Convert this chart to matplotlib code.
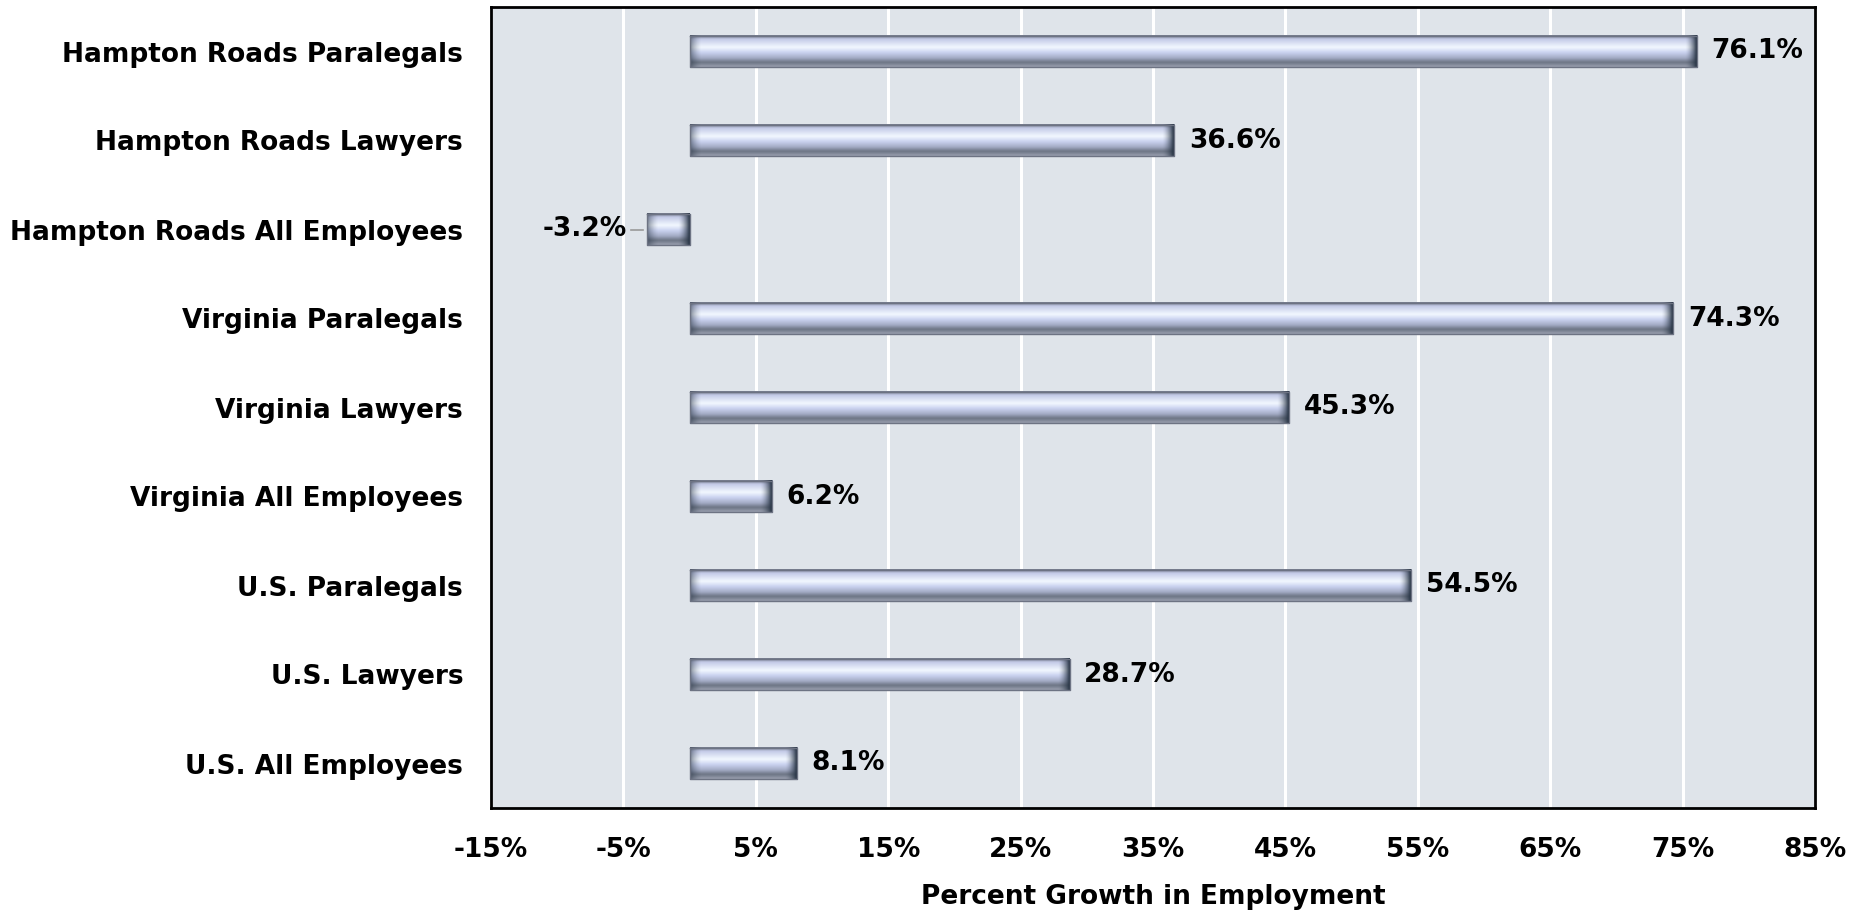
import matplotlib.pyplot as plt
import numpy as np
from matplotlib.colors import LinearSegmentedColormap

categories = ['Hampton Roads Paralegals', 'Hampton Roads Lawyers', 'Hampton Roads All Employees',
              'Virginia Paralegals', 'Virginia Lawyers', 'Virginia All Employees',
              'U.S. Paralegals', 'U.S. Lawyers', 'U.S. All Employees']
values = [76.1, 36.6, -3.2, 74.3, 45.3, 6.2, 54.5, 28.7, 8.1]
xticks = list(range(-15, 86, 10))

plt.rcParams['font.family'] = ['DejaVu Sans']
plt.rcParams['font.weight'] = 'bold'
FS = 19

fig = plt.figure(figsize=(18.72, 9.14), dpi=100)
ax = fig.add_axes([491/1872, 1 - 808/914, (1815-491)/1872, (808-7)/914])
ax.set_facecolor('#dfe4ea')

# vertical shading for the "glass" bars (top -> bottom)
bar_cmap = LinearSegmentedColormap.from_list('bar', [
    (0.0, '#6f7585'), (0.12, '#c4cbe8'), (0.38, '#f2f8ff'), (0.55, '#c9d1ef'),
    (0.72, '#a3abc4'), (0.86, '#6c7484'), (1.0, '#9aa0b0')])
grad = np.linspace(0, 1, 64).reshape(-1, 1)

# horizontal darkening for the bevelled ends
ramp = np.linspace(1, 0, 32) ** 1.6
cap_img = np.zeros((1, 32, 4))
cap_img[..., :3] = np.array([0x25, 0x32, 0x42]) / 255
cap_img[0, :, 3] = ramp

h = 0.35
ys = np.arange(len(categories))
for y, v in zip(ys, values):
    x0, x1 = min(0, v), max(0, v)
    ax.imshow(grad, cmap=bar_cmap, aspect='auto', extent=(x0, x1, y + h/2, y - h/2),
              zorder=3, interpolation='bicubic')
    cap = min(0.9, (x1 - x0) * 0.3)
    # right end (dark), left end (lighter)
    ax.imshow(cap_img[:, ::-1], aspect='auto', extent=(x1 - cap, x1, y + h/2, y - h/2),
              zorder=4, interpolation='bilinear')
    left = cap_img.copy()
    left[..., 3] *= 0.55
    ax.imshow(left, aspect='auto', extent=(x0, x0 + cap, y + h/2, y - h/2),
              zorder=4, interpolation='bilinear')
    ax.plot([x0, x1, x1, x0, x0], [y - h/2, y - h/2, y + h/2, y + h/2, y - h/2],
            color='#6d7383', lw=1, zorder=5)
    if v >= 0:
        ax.text(v + 1.1, y, f'{v:.1f}%', va='center', ha='left', fontsize=FS, fontweight='bold', zorder=6)
    else:
        ax.plot([v - 1.2, v - 0.3], [y, y], color='#999999', lw=1.2, zorder=5)
        ax.text(v - 1.5, y, f'{v:.1f}%', va='center', ha='right', fontsize=FS, fontweight='bold', zorder=6)

ax.set_xlim(-15, 85)
ax.set_ylim(len(categories) - 0.5, -0.5)
ax.set_xticks(xticks)
ax.set_xticklabels([f'{t}%' for t in xticks], fontsize=FS, fontweight='bold')
ax.set_yticks(ys)
ax.set_yticklabels(categories, fontsize=FS, fontweight='bold')
ax.tick_params(length=0)
ax.tick_params(axis='y', pad=20)
ax.tick_params(axis='x', pad=21)
ax.xaxis.grid(True, color='white', lw=2.2, zorder=1)
ax.set_axisbelow(True)
for s in ax.spines.values():
    s.set_linewidth(2)
    s.set_color('black')
ax.set_xlabel('Percent Growth in Employment', fontsize=FS, fontweight='bold', labelpad=15)

fig.savefig('out.png', dpi=100)
